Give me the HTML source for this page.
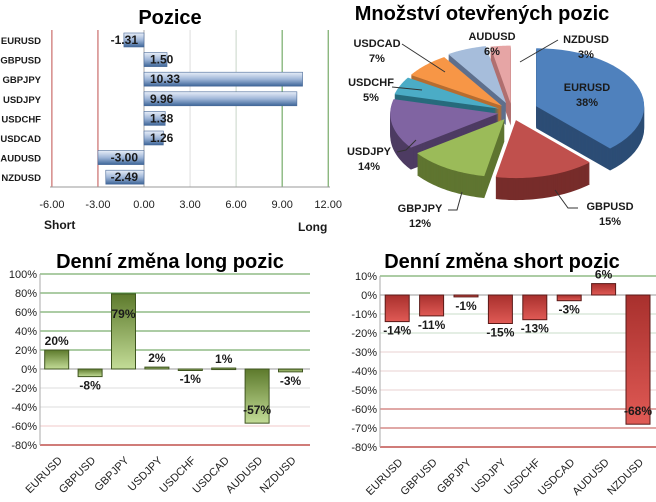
<!DOCTYPE html>
<html><head><meta charset="utf-8">
<style>
html,body{margin:0;padding:0;background:#fff;}
svg{display:block;font-family:"Liberation Sans",Arial,sans-serif;}
.t{font-weight:bold;font-size:20px;fill:#000;}
.lb{font-weight:bold;font-size:11px;fill:#1a1a1a;}
.tk{font-size:11px;fill:#222;}
</style></head>
<body>
<svg id="s" width="656" height="502" viewBox="0 0 656 502">
<defs>
<linearGradient id="gb" x1="0" y1="0" x2="0" y2="1"><stop offset="0" stop-color="#e8eef8"/><stop offset="0.5" stop-color="#9fb6d8"/><stop offset="1" stop-color="#3d6598"/></linearGradient>
<linearGradient id="gg" x1="0" y1="0" x2="0" y2="1"><stop offset="0" stop-color="#5d7a2c"/><stop offset="1" stop-color="#c3dc97"/></linearGradient>
<linearGradient id="gr" x1="0" y1="0" x2="0" y2="1"><stop offset="0" stop-color="#a8302d"/><stop offset="1" stop-color="#e05a55"/></linearGradient>
</defs>
<text class="t" x="170" y="24" text-anchor="middle">Pozice</text>
<text class="t" x="482" y="20" text-anchor="middle">Množství otevřených pozic</text>
<text class="t" x="170" y="268" text-anchor="middle">Denní změna long pozic</text>
<text class="t" x="502" y="268" text-anchor="middle">Denní změna short pozic</text>
<text class="lb" x="44" y="229" style="font-size:12px">Short</text>
<text class="lb" x="298" y="231" style="font-size:12px">Long</text>
<g id="g1"></g>
<g id="g2"></g>
<g id="g3"></g>
<g id="g4"></g>
</svg>
<script>
const pairs=["EURUSD","GBPUSD","GBPJPY","USDJPY","USDCHF","USDCAD","AUDUSD","NZDUSD"];
const positions=[-1.31,1.50,10.33,9.96,1.38,1.26,-3.00,-2.49];
const posTicks=[-6,-3,0,3,6,9,12];
const pieShares=[38,15,12,14,5,7,6,3];
const longChange=[20,-8,79,2,-1,1,-57,-3];
const longTicks=[100,80,60,40,20,0,-20,-40,-60,-80];
const shortChange=[-14,-11,-1,-15,-13,-3,6,-68];
const shortTicks=[10,0,-10,-20,-30,-40,-50,-60,-70,-80];
const NS="http://www.w3.org/2000/svg";
function mk(p,tag,a,txt){const e=document.createElementNS(NS,tag);for(const k in a)e.setAttribute(k,a[k]);if(txt!==undefined)e.textContent=txt;p.appendChild(e);return e;}

// Chart 1
(function(){
const g=document.getElementById('g1');
const X=v=>144+(v)*15.35, Y=i=>40+i*19.6;
const gc={"-6":"#c0504d","-3":"#c0504d","0":"#aaa","3":"#ddd","6":"#c8d6c8","9":"#5a9a4a","12":"#5a9a4a"};
posTicks.forEach(t=>{
 const l=mk(g,'line',{x1:X(t),x2:X(t),y1:30,y2:187,stroke:gc[t],'stroke-width':1});
 
 const tx=mk(g,'text',{class:'tk',x:X(t),y:208,'text-anchor':'middle'},t.toFixed(2));
 
});
mk(g,'line',{x1:50,x2:330,y1:187,y2:187,stroke:'#999'});
pairs.forEach((p,i)=>{
 const c=mk(g,'text',{class:'lb',x:41,y:Y(i)+4,'text-anchor':'end',style:'font-size:9.5px'},p);
 
 const v=positions[i];const x0=Math.min(X(0),X(v)),w=Math.abs(X(v)-X(0));
 const r=mk(g,'rect',{x:x0,y:Y(i)-7,width:w,height:14,fill:'url(#gb)',stroke:'#4a6a98','stroke-width':0.6});
 
 const t=mk(g,'text',{class:'lb',x:v<0?X(0)-6:X(0)+6,y:Y(i)+4,'text-anchor':v<0?'end':'start',style:'font-size:12px'},v.toFixed(2));
 
});
})();

// Pie
(function(){
const g=document.getElementById('g2');
const cx=512,cy=112,rx=108,ry=58,D=22;
const top=["#4f81bd","#c0504d","#9bbb59","#8064a2","#4bacc6","#f79646","#a6bddb","#e6a5a5"];
const side=["#2c4d75","#772c2a","#5f7530","#4d3b62","#276a7c","#b66d31","#5e6f8c","#b07070"];
const expl=[26,14,14,14,14,14,16,14];
const tot=pieShares.reduce((a,b)=>a+b,0);
let a=0;const sl=[];
pieShares.forEach((v,i)=>{const a0=a,a1=a+v/tot*2*Math.PI;a=a1;sl.push({i,a0,a1,m:(a0+a1)/2});});
function path(s,ox,oy){
 const P=t=>[ox+cx+rx*Math.sin(t),oy+cy-ry*Math.cos(t)];
 let d=`M${ox+cx},${oy+cy} L${P(s.a0)}`;
 const n=30;for(let k=1;k<=n;k++){d+=` L${P(s.a0+(s.a1-s.a0)*k/n)}`;}
 return d+'Z';
}
sl.slice().sort((p,q)=>Math.cos(q.m)-Math.cos(p.m)).forEach(s=>{
 const e=expl[s.i];const ox=e*Math.sin(s.m),oy=-e*Math.cos(s.m)*0.6;
 for(let k=D;k>=1;k-=1){mk(g,'path',{d:path(s,ox,oy+k),fill:side[s.i]});}
 const t=mk(g,'path',{d:path(s,ox,oy),fill:top[s.i]});
 
});
const lp=[[377,47],[492,40],[586,43],[587,91],[371,86],[369,155],[420,212],[610,210]];
const order=[5,6,7,0,4,3,2,1];
order.forEach((pi,k)=>{
 const [x,y]=lp[k];
 const a=mk(g,'text',{class:'lb',x:x,y:y,'text-anchor':'middle'},pairs[pi]);
 
 const b=mk(g,'text',{class:'lb',x:x,y:y+15,'text-anchor':'middle'},pieShares[pi]+'%');
 
});
[["M402,44 L445,72"],["M558,40 L520,62"],["M392,87 L422,90"],["M397,152 L406,150 L416,140"],["M448,210 L457,210 L462,192"],["M578,208 L568,208 L555,190"]].forEach(p=>{
 mk(g,'path',{d:p[0],stroke:'#333',fill:'none','stroke-width':1});
});
})();

// Column charts
function columns(gid,vals,ticks,x0,slot,yTop,yBot,grad,stroke,colorFn,plotR){
 const g=document.getElementById(gid);
 const mx=ticks[0],mn=ticks[ticks.length-1];
 const Y=v=>yTop+(mx-v)/(mx-mn)*(yBot-yTop);
 ticks.forEach(t=>{
  const l=mk(g,'line',{x1:x0,x2:plotR,y1:Y(t),y2:Y(t),stroke:colorFn(t),'stroke-width':t===mn?1.5:1});
  
  const tx=mk(g,'text',{class:'tk',x:x0-3,y:Y(t)+4,'text-anchor':'end'},t+'%');
  
 });
 mk(g,'line',{x1:x0,x2:x0,y1:yTop,y2:yBot,stroke:'#aaa'});
 vals.forEach((v,i)=>{
  const c=x0+slot*(i+0.5);const y1=Math.min(Y(v),Y(0)),h=Math.max(Math.abs(Y(v)-Y(0)),1.5);
  const r=mk(g,'rect',{x:c-12,y:y1,width:24,height:h,fill:grad,stroke:stroke,'stroke-width':1});
  
  const big=Math.abs(Y(v)-Y(0))>30;
  const ly=big?(v>0?Y(v)+24:Y(v)-9):(v>=0?Y(v)-5:Y(v)+13);
  const t=mk(g,'text',{class:'lb',x:c,y:ly,'text-anchor':'middle',style:'font-size:12px'},v+'%');
  
  const cl=mk(g,'text',{class:'tk',x:0,y:0,'text-anchor':'end',transform:`translate(${c+6},${yBot+16}) rotate(-45)`},pairs[i]);
  
 });
}
columns('g3',longChange,longTicks,40,33.4,274,445,'url(#gg)','#3f5520',t=>t>0?'#5a9a4a':t===0?'#999':t===-60?'#f0c8c8':t===-80?'#c0504d':'#ddd',310);
columns('g4',shortChange,shortTicks,380,34.4,276,447,'url(#gr)','#5a1a18',t=>t>0?'#5a9a4a':t===0?'#999':t>=-20?'#c8dcc8':t<=-60?'#c0504d':'#e8d0d0',656);
</script>
</body></html>
